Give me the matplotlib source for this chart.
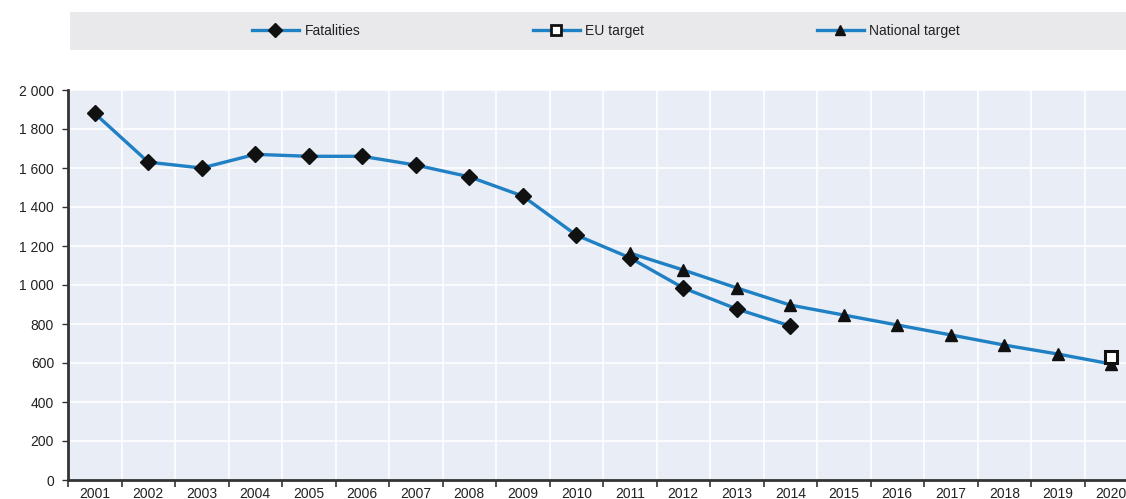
import matplotlib
matplotlib.use("Agg")
import matplotlib.pyplot as plt
from matplotlib.patches import Rectangle
from matplotlib.lines import Line2D
from matplotlib import font_manager

years = [str(y) for y in range(2001, 2021)]
fatalities = [1880, 1630, 1600, 1670, 1660, 1660, 1615, 1555, 1456, 1256, 1140, 985, 877, 790]
national_years = years[10:]
national_target = [1164, 1077, 985, 897, 846, 795, 744, 692, 646, 595]
eu_years = ["2020"]
eu_target = [630]

yticks = [0, 200, 400, 600, 800, 1000, 1200, 1400, 1600, 1800, 2000]
ytick_labels = ["0", "200", "400", "600", "800", "1 000", "1 200", "1 400", "1 600", "1 800", "2 000"]

names = {f.name for f in font_manager.fontManager.ttflist}
fam = ["Liberation Sans Narrow", "Liberation Sans", "DejaVu Sans"] if "Liberation Sans Narrow" in names else ["Liberation Sans", "DejaVu Sans"]
plt.rcParams["font.family"] = fam

BLUE = "#1f80c4"
TXT = "#222222"

fig = plt.figure(figsize=(11.26, 4.99), dpi=100)
W, H = 1126, 499
ax = fig.add_axes([68 / W, 19 / H, 1070 / W, 390 / H])
ax.set_facecolor("#e8edf6")

xidx = {y: i for i, y in enumerate(years)}
ax.plot([xidx[y] for y in years[:len(fatalities)]], fatalities, color=BLUE, lw=2.4,
        marker="D", ms=8.5, mfc="#111111", mec="#111111", zorder=3)
ax.plot([xidx[y] for y in national_years], national_target, color=BLUE, lw=2.4,
        marker="^", ms=8, mfc="#111111", mec="#111111", zorder=3)
ax.plot([xidx[y] for y in eu_years], eu_target, color=BLUE, lw=2.4, ls="none",
        marker="s", ms=9, mfc="white", mec="#111111", mew=2.2, zorder=4)

ax.set_xlim(-0.5, len(years) - 0.5)
ax.set_ylim(0, 2000)
ax.set_xticks(range(len(years)))
ax.set_xticklabels(years, fontsize=10, color=TXT)
ax.set_xticks([i + 0.5 for i in range(-1, len(years))], minor=True)
ax.tick_params(axis="x", which="major", length=0, pad=5)
ax.tick_params(axis="x", which="minor", length=5, width=1.2, color="#333333")
ax.set_yticks(yticks)
ax.set_yticklabels(ytick_labels, fontsize=10, color=TXT)
ax.tick_params(axis="y", length=4, width=1, color="#333333", pad=6)

ax.grid(False)
for i in range(len(years)):
    ax.axvline(i + 0.5, color="white", lw=1.2, zorder=1)
for y in yticks[1:]:
    ax.axhline(y, color="white", lw=1.2, zorder=1)

for s in ["top", "right"]:
    ax.spines[s].set_visible(False)
for s in ["left", "bottom"]:
    ax.spines[s].set_color("#333333")
    ax.spines[s].set_linewidth(2)

# legend band
fig.patches.append(Rectangle((70 / W, 1 - 50 / H), (W - 70) / W, 38 / H,
                             transform=fig.transFigure, facecolor="#e9e9ec",
                             edgecolor="none", zorder=0))
handles = [
    Line2D([], [], color=BLUE, lw=2.4, marker="D", ms=7, mfc="#111111", mec="#111111"),
    Line2D([], [], color=BLUE, lw=2.4, marker="s", ms=7, mfc="white", mec="#111111", mew=2),
    Line2D([], [], color=BLUE, lw=2.4, marker="^", ms=7, mfc="#111111", mec="#111111"),
]
fig.legend(handles, ["Fatalities", "EU target", "National target"], ncol=3,
           loc="center", bbox_to_anchor=(606 / W, 1 - 31 / H), frameon=False,
           fontsize=10, handlelength=3.4, handletextpad=0.4, columnspacing=12.4,
           labelcolor=TXT)

fig.savefig("out.png", dpi=100)
